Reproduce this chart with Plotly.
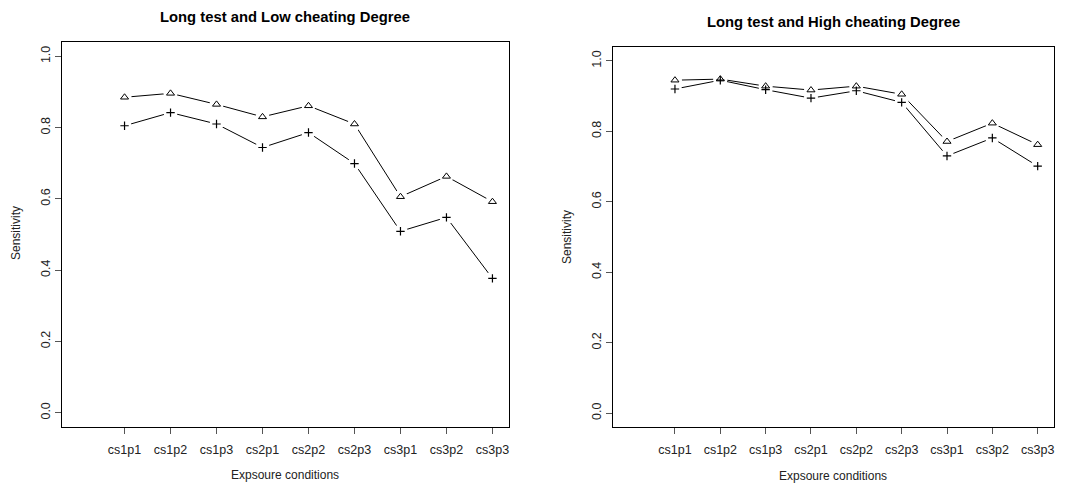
import plotly.graph_objects as go

categories = ["cs1p1", "cs1p2", "cs1p3", "cs2p1", "cs2p2", "cs2p3", "cs3p1", "cs3p2", "cs3p3"]
positions = [1, 2, 3, 4, 5, 6, 7, 8, 9]

low_triangle = [0.885, 0.896, 0.865, 0.830, 0.861, 0.810, 0.606, 0.663, 0.592]
low_plus = [0.805, 0.842, 0.810, 0.744, 0.786, 0.699, 0.509, 0.548, 0.377]

high_triangle = [0.945, 0.948, 0.928, 0.917, 0.928, 0.905, 0.771, 0.823, 0.762]
high_plus = [0.920, 0.945, 0.918, 0.894, 0.915, 0.882, 0.730, 0.781, 0.701]

y_ticks = [0.0, 0.2, 0.4, 0.6, 0.8, 1.0]
y_ticktext = ["0.0", "0.2", "0.4", "0.6", "0.8", "1.0"]

titles = ["Long test and Low cheating Degree", "Long test and High cheating Degree"]
x_title = "Expsoure conditions"
y_title = "Sensitivity"

FONT = "Liberation Sans, Arial, sans-serif"
W, H = 1073, 484

fig = go.Figure()

panels = [
    dict(xa="x", ya="y", tri=low_triangle, plus=low_plus,
         box=(62, 509, 42, 427)),
    dict(xa="x2", ya="y2", tri=high_triangle, plus=high_plus,
         box=(613.3, 1054, 46.7, 427.3)),
]

for p in panels:
    # lines
    for ys in (p["tri"], p["plus"]):
        fig.add_trace(go.Scatter(x=positions, y=ys, mode="lines",
                                 line=dict(color="black", width=1),
                                 xaxis=p["xa"], yaxis=p["ya"],
                                 showlegend=False, hoverinfo="skip"))
    # gaps around points (R type="b")
    for ys in (p["tri"], p["plus"]):
        fig.add_trace(go.Scatter(x=positions, y=ys, mode="markers",
                                 marker=dict(symbol="circle", size=14, color="white",
                                             line=dict(width=0)),
                                 xaxis=p["xa"], yaxis=p["ya"],
                                 showlegend=False, hoverinfo="skip"))
    fig.add_trace(go.Scatter(x=positions, y=p["tri"], mode="markers",
                             marker=dict(symbol="triangle-up-open", size=7, color="black",
                                         line=dict(color="black", width=1)),
                             xaxis=p["xa"], yaxis=p["ya"], showlegend=False))
    fig.add_trace(go.Scatter(x=positions, y=p["plus"], mode="markers",
                             marker=dict(symbol="cross-thin-open", size=6, color="black",
                                         line=dict(color="black", width=1.2)),
                             xaxis=p["xa"], yaxis=p["ya"], showlegend=False))

axis_common = dict(showgrid=False, zeroline=False, showline=True, linecolor="black",
                   linewidth=1, mirror=True, ticks="outside", ticklen=6, tickwidth=1,
                   tickcolor="#555555",
                   tickfont=dict(family=FONT, size=12.5, color="#222222"))

layout = dict(width=W, height=H, margin=dict(l=0, r=0, t=0, b=0),
              paper_bgcolor="white", plot_bgcolor="white", showlegend=False)

for i, p in enumerate(panels):
    x0, x1, y0, y1 = p["box"]
    suffix = "" if i == 0 else "2"
    layout["xaxis" + suffix] = dict(domain=[x0 / W, x1 / W], range=[-0.36, 9.36],
                                    tickvals=positions, ticktext=categories,
                                    ticklabelstandoff=5,
                                    anchor="y" + suffix, **axis_common)
    layout["yaxis" + suffix] = dict(domain=[1 - y1 / H, 1 - y0 / H], range=[-0.04, 1.04],
                                    tickvals=y_ticks, ticktext=y_ticktext, tickangle=-90,
                                    anchor="x" + suffix, **axis_common)

fig.update_layout(**layout)

ann = []
title_pos = [(285, 17), (833, 22)]
xt_pos = [(285, 475), (833, 476)]
yt_pos = [(16, 233), (567, 237)]
for i in range(2):
    ann.append(dict(text="<b>" + titles[i] + "</b>", x=title_pos[i][0] / W, y=1 - title_pos[i][1] / H,
                    xref="paper", yref="paper", showarrow=False, xanchor="center", yanchor="middle",
                    font=dict(family=FONT, size=14.8, color="black")))
    ann.append(dict(text=x_title, x=xt_pos[i][0] / W, y=1 - xt_pos[i][1] / H,
                    xref="paper", yref="paper", showarrow=False, xanchor="center", yanchor="middle",
                    font=dict(family=FONT, size=12, color="#222222")))
    ann.append(dict(text=y_title, x=yt_pos[i][0] / W, y=1 - yt_pos[i][1] / H, textangle=-90,
                    xref="paper", yref="paper", showarrow=False, xanchor="center", yanchor="middle",
                    font=dict(family=FONT, size=12, color="#222222")))
fig.update_layout(annotations=ann)

fig.write_html("out.html")
